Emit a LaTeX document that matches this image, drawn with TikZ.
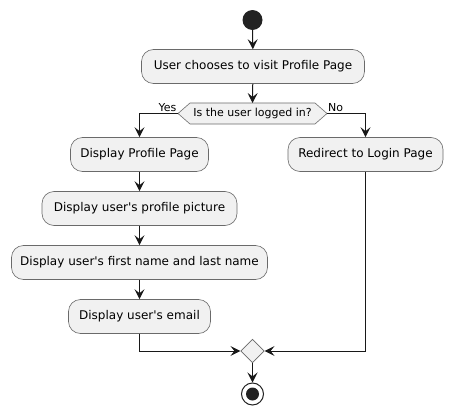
\documentclass[tikz,border=0pt]{standalone}
\usepackage{fontspec}
\setmainfont{DejaVu Sans}
\usetikzlibrary{shapes.geometric,arrows.meta}
\definecolor{boxfill}{HTML}{F1F1F1}
\definecolor{boxline}{HTML}{6A6A6A}
\definecolor{ink}{HTML}{181818}
\definecolor{dot}{HTML}{222222}
\begin{document}
\begin{tikzpicture}[x=1pt,y=-1pt,
  act/.style={draw=boxline, line width=0.6pt, fill=boxfill, rounded corners=12pt,
    minimum height=34pt, inner sep=0pt, font=\fontsize{12}{14}\selectfont},
  flow/.style={draw=ink, line width=1pt, -{Stealth[length=10pt,width=10pt,inset=4pt]}},
  lbl/.style={font=\fontsize{11}{13}\selectfont, inner sep=0pt}]
\useasboundingbox[fill=white] (0,0) rectangle (453,415);

\node[circle, fill=dot, minimum size=20pt, inner sep=0pt] (start) at (252.5,20) {};
\node[act, minimum width=223pt] (b1) at (253,66.5) {User chooses to visit Profile Page};

\coordinate (qL) at (178,113.5);
\coordinate (qR) at (327,113.5);
\coordinate (qT) at (252.5,103);
\draw[draw=boxline, fill=boxfill, line width=0.6pt]
  (qL) -- (190,103) -- (315,103) -- (qR) -- (315,124) -- (190,124) -- cycle;
\node[lbl] (q) at (252.5,113.5) {Is the user logged in?};

\node[act, minimum width=138pt] (dpp) at (139.5,154.5) {Display Profile Page};
\node[act, minimum width=155pt] (red) at (365.5,154.5) {Redirect to Login Page};
\node[act, minimum width=195pt] (pic) at (139.5,208.5) {Display user\textquotesingle s profile picture};
\node[act, minimum width=256pt] (name) at (139.5,262.5) {Display user\textquotesingle s first name and last name};
\node[act, minimum width=142pt] (email) at (139.5,316.5) {Display user\textquotesingle s email};

\node[diamond, aspect=1, draw=boxline, fill=boxfill, line width=0.6pt,
  minimum width=23.5pt, minimum height=23.5pt, inner sep=0pt] (m) at (252.5,351) {};
\node[circle, draw=dot, line width=1pt, fill=white, minimum size=22pt, inner sep=0pt] (end) at (252.5,394) {};
\fill[dot] (end.center) circle (6.5pt);

\draw[flow] (start) -- (b1);
\draw[flow] (b1) -- (qT);
\draw[flow] (qL) -| (dpp.north);
\draw[flow] (qR) -| (red.north);
\node[lbl, anchor=base east] (yes) at (176.5,111.5) {Yes};
\node[lbl, anchor=base west] (no) at (328,111.5) {No};
\draw[flow] (dpp) -- (pic);
\draw[flow] (pic) -- (name);
\draw[flow] (name) -- (email);
\draw[flow] (email.south) |- (m.west);
\draw[flow] (red.south) |- (m.east);
\draw[flow] (m.south) -- (end.north);
\end{tikzpicture}
\end{document}
